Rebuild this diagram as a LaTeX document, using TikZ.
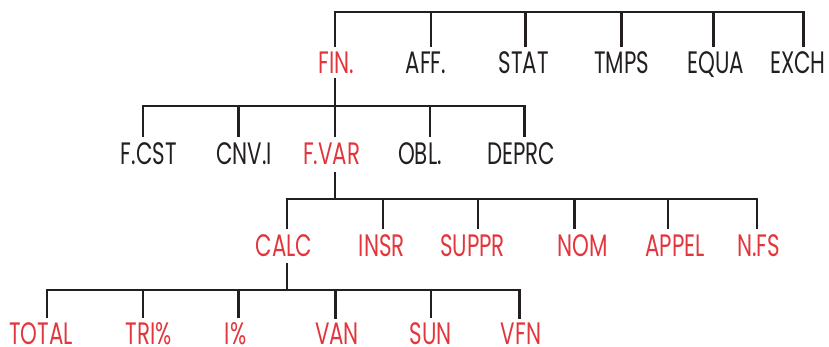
\documentclass[tikz,border=0pt]{standalone}
\usepackage{fontspec}
\setmainfont{Poppins}[FakeStretch=0.69]
\definecolor{menuink}{RGB}{35,31,32}
\definecolor{menured}{RGB}{226,54,60}

\begin{document}
\begin{tikzpicture}[x=1pt,y=-1pt,
	key/.style={font=\fontsize{31}{32}\selectfont,text=menuink,inner sep=0pt,anchor=base},
	hot/.style={key,text=menured},
	branch/.style={draw=menuink,line width=2.4pt,shorten >=5pt}]
	\useasboundingbox (0,0) rectangle (829,347);

	% top row
	\coordinate (t-fin) at (335,12);
	\coordinate (t-aff) at (431,12);
	\coordinate (t-stat) at (525.5,12);
	\coordinate (t-tmps) at (621.5,12);
	\coordinate (t-equa) at (713.5,12);
	\coordinate (t-exch) at (803.5,12);
	\node[hot] (fin) at (336.5,74) {FIN.};
	\node[key] (aff) at (426,74) {AFF.};
	\node[key] (stat) at (523.7,74) {STAT};
	\node[key] (tmps) at (621.5,74) {TMPS};
	\node[key] (equa) at (716,74) {EQUA};
	\node[key] (exch) at (798,74) {EXCH};
	\draw[branch,shorten <=5pt] (t-fin |- fin.north) -- (t-fin) -- (t-exch) -- (t-exch |- exch.north);
	\draw[branch] (t-aff) -- (t-aff |- aff.north);
	\draw[branch] (t-stat) -- (t-stat |- stat.north);
	\draw[branch] (t-tmps) -- (t-tmps |- tmps.north);
	\draw[branch] (t-equa) -- (t-equa |- equa.north);

	% FIN. menu
	\coordinate (b-fcst) at (142.7,106.3);
	\coordinate (b-cnvi) at (238.3,106.3);
	\coordinate (b-fvar) at (335,106.3);
	\coordinate (b-obl) at (430,106.3);
	\coordinate (b-deprc) at (524.3,106.3);
	\node[key] (fcst) at (148.7,165) {F.CST};
	\node[key] (cnvi) at (244,165) {CNV.I};
	\node[hot] (fvar) at (331.7,165) {F.VAR};
	\node[key] (obl) at (420,165) {OBL.};
	\node[key] (deprc) at (521,165) {DEPRC};
	\draw[branch,shorten >=0pt,shorten <=4pt] (t-fin |- fin.south) -- (b-fvar);
	\draw[branch,shorten <=6pt,shorten >=6pt] (b-fcst |- fcst.north) -- (b-fcst) -- (b-deprc) -- (b-deprc |- deprc.north);
	\draw[branch,shorten >=6pt] (b-cnvi) -- (b-cnvi |- cnvi.north);
	\draw[branch,shorten >=6pt] (b-fvar) -- (b-fvar |- fvar.north);
	\draw[branch,shorten >=6pt] (b-obl) -- (b-obl |- obl.north);

	% F.VAR menu
	\coordinate (c-calc) at (286.7,199.3);
	\coordinate (c-insr) at (383,199.3);
	\coordinate (c-suppr) at (477.7,199.3);
	\coordinate (c-nom) at (574.5,199.3);
	\coordinate (c-appel) at (667.7,199.3);
	\coordinate (c-nfs) at (756.7,199.3);
	\node[hot] (calc) at (284,256) {CALC};
	\node[hot] (insr) at (381.7,256) {INSR};
	\node[hot] (suppr) at (472.5,256) {SUPPR};
	\node[hot] (nom) at (583,256) {NOM};
	\node[hot] (appel) at (675,256) {APPEL};
	\node[hot] (nfs) at (758.7,256) {N.FS};
	\draw[branch,shorten >=0pt,shorten <=7pt] (b-fvar |- fvar.south) -- (b-fvar |- c-calc);
	\draw[branch,shorten <=5pt] (c-calc |- calc.north) -- (c-calc) -- (c-nfs) -- (c-nfs |- nfs.north);
	\draw[branch] (c-insr) -- (c-insr |- insr.north);
	\draw[branch] (c-suppr) -- (c-suppr |- suppr.north);
	\draw[branch] (c-nom) -- (c-nom |- nom.north);
	\draw[branch] (c-appel) -- (c-appel |- appel.north);

	% CALC menu
	\coordinate (d-total) at (46.7,290);
	\coordinate (d-tri) at (142.7,290);
	\coordinate (d-ipct) at (238.5,290);
	\coordinate (d-van) at (335.4,290);
	\coordinate (d-sun) at (431,290);
	\coordinate (d-vfn) at (519.5,290);
	\node[hot] (total) at (41,344.5) {TOTAL};
	\node[hot] (tri) at (149,344.5) {TRI\%};
	\node[hot] (ipct) at (235.5,344.5) {I\%};
	\node[hot] (van) at (337,344.5) {VAN};
	\node[hot] (sun) at (431,344.5) {SUN};
	\node[hot] (vfn) at (521,344.5) {VFN};
	\draw[branch,shorten >=0pt,shorten <=6.5pt] (c-calc |- calc.south) -- (c-calc |- d-total);
	\draw[branch,shorten <=4pt,shorten >=4pt] (d-total |- total.north) -- (d-total) -- (d-vfn) -- (d-vfn |- vfn.north);
	\draw[branch,shorten >=4pt] (d-tri) -- (d-tri |- tri.north);
	\draw[branch,shorten >=4pt] (d-ipct) -- (d-ipct |- ipct.north);
	\draw[branch,shorten >=4pt] (d-van) -- (d-van |- van.north);
	\draw[branch,shorten >=4pt] (d-sun) -- (d-sun |- sun.north);
\end{tikzpicture}
\end{document}
